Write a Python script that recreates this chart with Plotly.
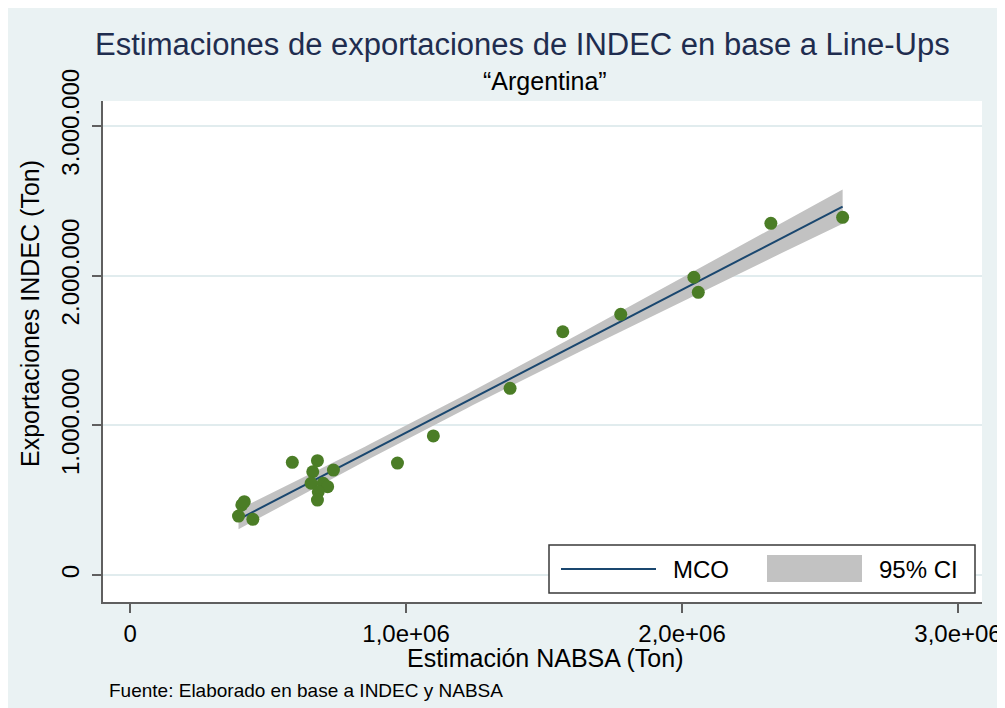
import numpy as np
import plotly.graph_objects as go

# ---------------- data ----------------
nabsa_ton = [393000, 405000, 414000, 445000, 588000, 679000, 737000, 662000,
             656000, 700000, 716000, 682000, 679000, 969000, 1099000, 1377000,
             1568000, 1778000, 2043000, 2059000, 2322000, 2582000]
indec_ton = [394000, 468000, 490000, 372000, 753000, 764000, 701000, 690000,
             613000, 613000, 590000, 556000, 501000, 748000, 929000, 1247000,
             1625000, 1741000, 1989000, 1888000, 2349000, 2389000]

x_tickvals = [0, 1000000, 2000000, 3000000]
x_ticktext = ["0", "1,0e+06", "2,0e+06", "3,0e+06"]
y_tickvals = [0, 1000000, 2000000, 3000000]
y_ticktext = ["0", "1.000.000", "2.000.000", "3.000.000"]

legend_labels = ["MCO", "95% CI"]
T_CRIT_DF20 = 2.086  # t(0.975, n-2)

# ---------------- OLS fit + 95% CI of the mean ----------------
x = np.array(nabsa_ton, dtype=float)
y = np.array(indec_ton, dtype=float)
n = len(x)
b1, b0 = np.polyfit(x, y, 1)
resid = y - (b0 + b1 * x)
s = np.sqrt(np.sum(resid ** 2) / (n - 2))
sxx = np.sum((x - x.mean()) ** 2)
xg = np.linspace(x.min(), x.max(), 120)
yg = b0 + b1 * xg
se = s * np.sqrt(1.0 / n + (xg - x.mean()) ** 2 / sxx)
lo = yg - T_CRIT_DF20 * se
hi = yg + T_CRIT_DF20 * se

# ---------------- styling ----------------
FONT = "Liberation Sans, Arial, sans-serif"
BG = "#eaf2f3"
GREEN = "#4b7d26"
NAVY = "#1a476f"
CI_GRAY = "#c2c2c2"

OFF = 8  # page body margin
W, H = 1005 - OFF, 708 - OFF
PL, PR, PT, PB = 103, 982, 101, 602   # plot area in screen pixels
L, R, T, B = PL - OFF, W - (PR - OFF), PT - OFF, H - (PB - OFF)
PW, PH = PR - PL, PB - PT


def px(sx):
    return (sx - PL) / PW


def py(sy):
    return (PB - sy) / PH


fig = go.Figure()
fig.add_trace(go.Scatter(x=xg, y=lo, mode="lines", line=dict(width=0, color=CI_GRAY),
                         hoverinfo="skip", showlegend=False))
fig.add_trace(go.Scatter(x=xg, y=hi, mode="lines", line=dict(width=0, color=CI_GRAY),
                         fill="tonexty", fillcolor=CI_GRAY, name=legend_labels[1],
                         showlegend=False))
fig.add_trace(go.Scatter(x=xg, y=yg, mode="lines", line=dict(color=NAVY, width=2),
                         name=legend_labels[0], showlegend=False))
fig.add_trace(go.Scatter(x=x, y=y, mode="markers",
                         marker=dict(color=GREEN, size=13, line=dict(width=0)),
                         showlegend=False))

fig.update_layout(
    width=W, height=H,
    margin=dict(l=L, r=R, t=T, b=B, autoexpand=False),
    paper_bgcolor=BG, plot_bgcolor="white",
    font=dict(family=FONT, color="black", size=24),
    showlegend=False,
)

fig.update_xaxes(
    range=[-98000, 3087000], tickvals=x_tickvals, ticktext=x_ticktext,
    showgrid=False, zeroline=False, automargin=False,
    showline=True, linecolor="#5f5f5f", linewidth=1.5,
    ticks="outside", ticklen=9, tickcolor="#5f5f5f", tickwidth=1.5,
    tickfont=dict(size=24, family=FONT, color="black"),
)
fig.update_yaxes(
    range=[-180000, 3166000], tickvals=y_tickvals, ticktext=y_ticktext,
    showgrid=True, gridcolor="#e1ecee", gridwidth=1.5, zeroline=False, automargin=False,
    showline=True, linecolor="#5f5f5f", linewidth=1.5,
    ticks="outside", ticklen=9, tickcolor="#5f5f5f", tickwidth=1.5,
    tickangle=-90, ticklabelstandoff=4,
    tickfont=dict(size=24, family=FONT, color="black"),
)

shapes = [
    # legend box
    dict(type="rect", xref="paper", yref="paper", x0=px(549), x1=px(975), y0=py(593), y1=py(545),
         fillcolor="white", line=dict(color="#3a3a3a", width=1.5), layer="above"),
    dict(type="line", xref="paper", yref="paper", x0=px(561), x1=px(656), y0=py(569), y1=py(569),
         line=dict(color=NAVY, width=2), layer="above"),
    dict(type="rect", xref="paper", yref="paper", x0=px(767), x1=px(862), y0=py(582), y1=py(555),
         fillcolor=CI_GRAY, line=dict(width=0), layer="above"),
]

annotations = [
    dict(text="Estimaciones de exportaciones de INDEC en base a Line-Ups", x=px(522), y=py(44),
         xref="paper", yref="paper", showarrow=False, xanchor="center", yanchor="middle",
         font=dict(size=31, color="#1f2d4f", family=FONT)),
    dict(text="\u201cArgentina\u201d", x=px(545), y=py(81),
         xref="paper", yref="paper", showarrow=False, xanchor="center", yanchor="middle",
         font=dict(size=25, color="black", family=FONT)),
    dict(text="Exportaciones INDEC (Ton)", x=px(30), y=py(314), textangle=-90,
         xref="paper", yref="paper", showarrow=False, xanchor="center", yanchor="middle",
         font=dict(size=25, color="black", family=FONT)),
    dict(text="Estimaci\u00f3n NABSA (Ton)", x=px(545), y=py(658),
         xref="paper", yref="paper", showarrow=False, xanchor="center", yanchor="middle",
         font=dict(size=25, color="black", family=FONT)),
    dict(text="Fuente: Elaborado en base a INDEC y NABSA", x=px(107), y=py(690),
         xref="paper", yref="paper", showarrow=False, xanchor="left", yanchor="middle",
         font=dict(size=19, color="black", family=FONT)),
    dict(text=legend_labels[0], x=px(671), y=py(569),
         xref="paper", yref="paper", showarrow=False, xanchor="left", yanchor="middle",
         font=dict(size=24, color="black", family=FONT)),
    dict(text=legend_labels[1], x=px(877), y=py(569),
         xref="paper", yref="paper", showarrow=False, xanchor="left", yanchor="middle",
         font=dict(size=24, color="black", family=FONT)),
]

fig.update_layout(shapes=shapes, annotations=annotations)
fig.write_html("out.html")
